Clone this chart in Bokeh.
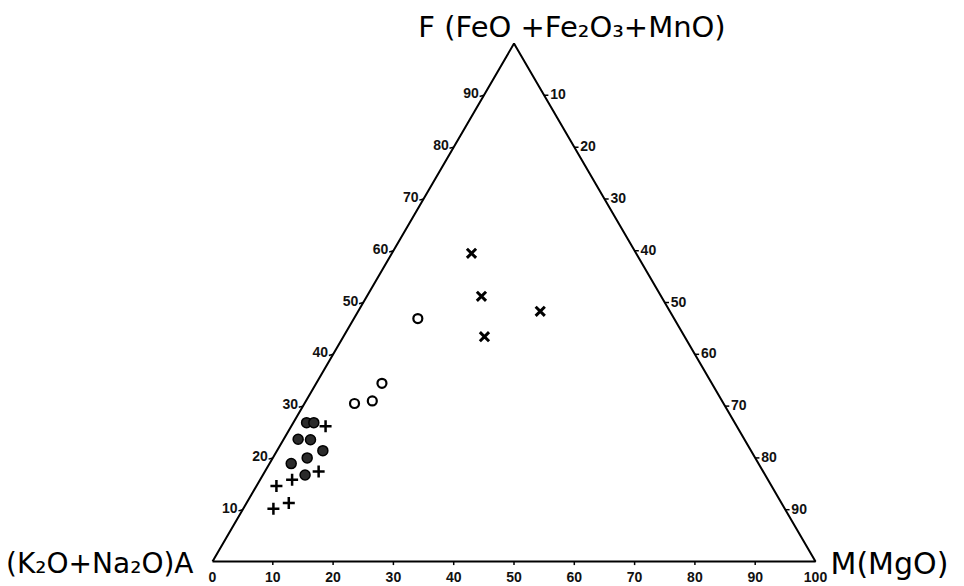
import math
from bokeh.plotting import figure
from bokeh.models import Range1d
from bokeh.core.properties import value
from bokeh.embed import file_html
from bokeh.resources import INLINE

# ---- data (F = FeO+Fe2O3+MnO, M = MgO, A = K2O+Na2O ; percent) ----
filled_F = [26.8, 26.8, 23.6, 23.5, 21.4, 20.0, 18.9, 16.7]
filled_M = [2.2, 3.4, 2.4, 4.5, 7.6, 5.7, 3.6, 7.0]

plus_F = [26.1, 17.4, 15.8, 14.6, 11.3, 10.2]
plus_M = [5.7, 8.9, 5.3, 3.3, 7.0, 5.0]

open_F = [46.9, 30.5, 31.0, 34.4]
open_M = [10.6, 8.3, 11.0, 10.9]

xcross_F = [59.5, 51.2, 43.4, 48.3]
xcross_M = [13.2, 19.0, 23.4, 30.2]

tick_values = [10, 20, 30, 40, 50, 60, 70, 80, 90]
bottom_labels = ["0", "10", "20", "30", "40", "50", "60", "70", "80", "90", "100"]
bottom_values = [0, 10, 20, 30, 40, 50, 60, 70, 80, 90, 100]

label_top = "F (FeO +Fe₂O₃+MnO)"
label_left = "(K₂O+Na₂O)A"
label_right = "M(MgO)"

S3 = math.sqrt(3) / 2


def tern(F, M):
    xs = [m + f / 2 for f, m in zip(F, M)]
    ys = [f * S3 for f in F]
    return xs, ys


p = figure(width=964, height=586, output_backend="svg", toolbar_location=None,
           x_range=Range1d(-35.16, 124.71), y_range=Range1d(-4.18, 93.80),
           min_border=0, outline_line_color=None, x_axis_type=None, y_axis_type=None)
p.grid.visible = False
p.background_fill_color = "white"
p.border_fill_color = "white"

# triangle
tx, ty = tern([0, 0, 100, 0], [0, 100, 0, 0])
p.line(tx, ty, line_color="black", line_width=2)

FONT = value("Liberation Sans")
BIG = value("DejaVu Sans")
TS = "14px"

# bottom ticks (M scale)
bx, by = tern([0] * len(bottom_values), bottom_values)
p.segment(x0=bx[1:-1], y0=by[1:-1], x1=bx[1:-1], y1=[v - 0.6 for v in by[1:-1]],
          line_color="black", line_width=1.5)
p.text(x=bx, y=by, text=bottom_labels, text_font=FONT, text_font_size=TS, text_font_style="bold",
       text_align="center", text_baseline="top", y_offset=10, text_color="#111111")

# left ticks (F scale)
lx, ly = tern(tick_values, [0] * len(tick_values))
p.segment(x0=lx, y0=ly, x1=[v - 0.7 for v in lx], y1=[v - 0.2 for v in ly],
          line_color="black", line_width=1.5)
p.text(x=lx, y=ly, text=[str(v) for v in tick_values], text_font=FONT, text_font_size=TS,
       text_font_style="bold",
       text_align="right", text_baseline="middle", x_offset=-5, y_offset=-2, text_color="#111111")

# right ticks
rx, ry = tern([100 - v for v in tick_values], tick_values)
p.segment(x0=rx, y0=ry, x1=[v + 0.7 for v in rx], y1=ry,
          line_color="black", line_width=1.5)
p.text(x=rx, y=ry, text=[str(v) for v in tick_values], text_font=FONT, text_font_size=TS,
       text_font_style="bold",
       text_align="left", text_baseline="middle", x_offset=6, y_offset=-1, text_color="#111111")

# vertex labels
vx, vy = tern([100], [0])
p.text(x=vx, y=vy, text=[label_top], text_font=BIG, text_font_size="29px",
       text_align="center", text_baseline="middle", x_offset=58, y_offset=-17, text_color="black")
ax_, ay_ = tern([0], [0])
p.text(x=ax_, y=ay_, text=[label_left], text_font=BIG, text_font_size="28px",
       text_align="right", text_baseline="middle", x_offset=-19, y_offset=2, text_color="black")
mx_, my_ = tern([0], [100])
p.text(x=mx_, y=my_, text=[label_right], text_font=BIG, text_font_size="30px",
       text_align="left", text_baseline="middle", x_offset=15, y_offset=2, text_color="black")

# points
fx, fy = tern(filled_F, filled_M)
p.scatter(fx, fy, marker="circle", size=10, fill_color="#2b2b2b", line_color="black", line_width=1.5)
px_, py_ = tern(plus_F, plus_M)
p.scatter(px_, py_, marker="cross", size=12, line_color="black", line_width=2.5)
ox, oy = tern(open_F, open_M)
p.scatter(ox, oy, marker="circle", size=9, fill_color="white", line_color="black", line_width=2.2)
xx, xy = tern(xcross_F, xcross_M)
p.scatter(xx, xy, marker="x", size=13, line_color="black", line_width=3)

open("out.html", "w").write(file_html(p, INLINE))
